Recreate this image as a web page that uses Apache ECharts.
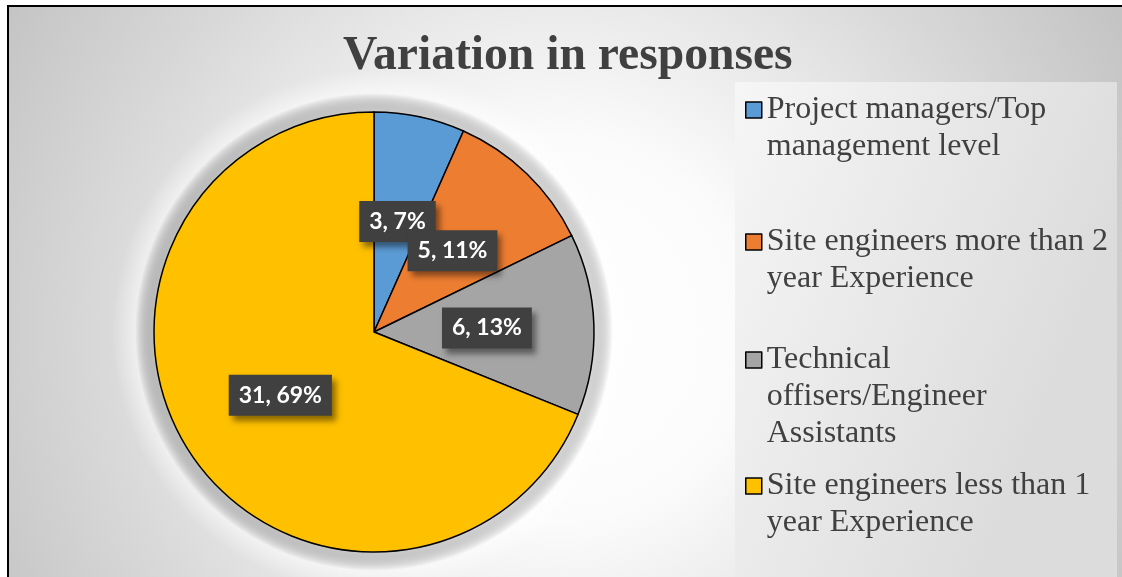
<!DOCTYPE html>
<html>
<head>
<meta charset="utf-8">
<script src="https://cdn.jsdelivr.net/npm/echarts@6/dist/echarts.min.js"></script>
<style>
html,body{margin:0;padding:0;background:#fff;}
#chart{width:1122px;height:577px;}
</style>
</head>
<body>
<div id="chart"></div>
<script>
const titleText = 'Variation in responses';
const categories = [
  'Project managers/Top management level',
  'Site engineers more than 2 year Experience',
  'Technical offisers/Engineer Assistants',
  'Site engineers less than 1 year Experience'
];
const legendLabels = [
  'Project managers/Top\nmanagement level',
  'Site engineers more than 2\nyear Experience',
  'Technical\noffisers/Engineer\nAssistants',
  'Site engineers less than 1\nyear Experience'
];
const values = [3, 5, 6, 31];
const colors = ['#5B9BD5', '#ED7D31', '#A5A5A5', '#FFC000'];

const PIE_CX = 374, PIE_CY = 332, PIE_R = 220, HALO_R = 262;

const chart = echarts.init(document.getElementById('chart'), null, {renderer: 'canvas'});

const LINE_H = 37;
const legendCenters = [110, 242, 360, 486];
const legends = categories.map(function (name, i) {
  const n = legendLabels[i].split('\n').length;
  const H = LINE_H * (2 * n - 1);
  const pad = ' \n'.repeat(n - 1);
  return {
    data: [name],
    orient: 'vertical',
    left: 745,
    top: legendCenters[i] - H / 2,
    padding: 0,
    selectedMode: false,
    icon: 'rect',
    itemWidth: 16,
    itemHeight: 16,
    itemStyle: {borderColor: '#000', borderWidth: 1.5},
    formatter: function () { return pad + legendLabels[i]; },
    textStyle: {
      fontFamily: 'Liberation Serif',
      fontSize: 32,
      lineHeight: LINE_H,
      color: '#404040'
    }
  };
});

const haloInner = PIE_R / HALO_R;

const option = {
  animation: false,
  backgroundColor: '#ffffff',
  color: colors,
  title: {
    text: titleText,
    left: 343,
    top: 33,
    padding: 0,
    textStyle: {
      fontFamily: 'Liberation Serif',
      fontWeight: 'bold',
      fontSize: 47.6,
      color: '#404040'
    }
  },
  graphic: [
    {
      type: 'rect', z: -10, silent: true,
      shape: {x: 8, y: 6, width: 1114, height: 571},
      style: {
        fill: new echarts.graphic.RadialGradient(560, 330, 640, [
          {offset: 0, color: '#ffffff'},
          {offset: 0.3, color: '#fbfbfb'},
          {offset: 0.7, color: '#dadada'},
          {offset: 1, color: '#c4c4c4'}
        ], true)
      }
    },
    {
      type: 'circle', z: -8, silent: true,
      shape: {cx: PIE_CX, cy: PIE_CY, r: HALO_R},
      style: {
        fill: new echarts.graphic.RadialGradient(0.5, 0.5, 0.5, [
          {offset: 0, color: 'rgba(0,0,0,0.15)'},
          {offset: haloInner, color: 'rgba(0,0,0,0.15)'},
          {offset: haloInner + (1 - haloInner) * 0.45, color: 'rgba(255,255,255,0.5)'},
          {offset: 1, color: 'rgba(255,255,255,0)'}
        ])
      }
    },
    {
      type: 'rect', z: -9, silent: true,
      shape: {x: 735, y: 82, width: 382, height: 495},
      style: {
        fill: new echarts.graphic.LinearGradient(0, 0, 1, 0.3, [
          {offset: 0, color: '#f6f6f6'},
          {offset: 1, color: '#dcdcdc'}
        ])
      }
    },
    {
      type: 'rect', z: 100, silent: true,
      shape: {x: 8, y: 6, width: 1200, height: 700},
      style: {fill: 'none', stroke: '#000', lineWidth: 2}
    }
  ],
  legend: legends,
  series: [
    {
      type: 'pie',
      z: 2,
      center: [PIE_CX, PIE_CY],
      radius: PIE_R,
      startAngle: 90,
      clockwise: true,
      avoidLabelOverlap: false,
      labelLayout: {hideOverlap: false},
      itemStyle: {borderColor: '#000', borderWidth: 1.5},
      labelLine: {show: false},
      label: {
        show: true,
        position: 'inside',
        formatter: function (p) { return p.value + ', ' + Math.round(p.percent) + '%'; },
        color: '#ffffff',
        fontFamily: 'Lato',
        fontWeight: 'bold',
        fontSize: 23,
        lineHeight: 23,
        backgroundColor: '#404040',
        padding: [9, 10],
        shadowColor: 'rgba(0,0,0,0.45)',
        shadowBlur: 6,
        shadowOffsetX: 4,
        shadowOffsetY: 5
      },
      emphasis: {disabled: true},
      data: categories.map(function (c, i) {
        return {name: c, value: values[i]};
      })
    }
  ]
};
chart.setOption(option);
</script>
</body>
</html>
